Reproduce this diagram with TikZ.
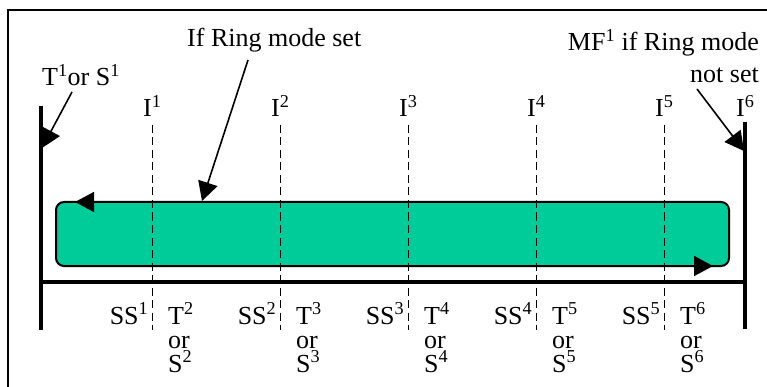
\documentclass[tikz,border=0pt]{standalone}
\usepackage{fontspec}
\setmainfont{Liberation Serif}
\usetikzlibrary{arrows.meta}
\definecolor{bandgreen}{RGB}{0,204,153}
\begin{document}
\begin{tikzpicture}[x=1pt,y=-1pt,
  lbl/.style={inner sep=0pt, font=\fontsize{26}{24}\selectfont},
  frameline/.style={line width=2.3pt},
  rail/.style={line width=4pt},
  divider/.style={line width=1.8pt, dash pattern=on 8pt off 4.5pt},
  pointer/.style={line width=1.6pt, -{Triangle[length=19pt,width=20pt]}},
  band/.style={fill=bandgreen, draw=black, line width=2pt, rounded corners=8pt},
]
\useasboundingbox (0,0) rectangle (767,387);

% outer frame
\draw[frameline] (8,390) -- (8,10) -- (770,10);

% ring band with its direction marks
\draw[band] (56,202) rectangle (729,266);
\coordinate (bandtopA) at (98,202);
\coordinate (bandtopB) at (75,202);
\coordinate (bandbotA) at (690,266);
\coordinate (bandbotB) at (713,266);
\draw[pointer] (bandtopA) -- (bandtopB);
\draw[pointer] (bandbotA) -- (bandbotB);

% end stations and the bus
\coordinate (leftTop) at (41,106);
\coordinate (leftBot) at (41,330);
\coordinate (rightTop) at (745,122);
\coordinate (rightBot) at (745,329);
\coordinate (busL) at (41,282);
\coordinate (busR) at (745,282);
\draw[rail] (leftTop) -- (leftBot);
\draw[rail] (rightTop) -- (rightBot);
\draw[rail] (busL) -- (busR);

% intermediate dividers and their labels
\foreach \i in {1,...,5} {
  \pgfmathsetmacro{\xx}{152.5+128*(\i-1)}
  \pgfmathtruncatemacro{\nn}{\i+1}
  \coordinate (divtop\i) at (\xx,125);
  \coordinate (divbot\i) at (\xx,330);
  \draw[divider] (divtop\i) -- (divbot\i);
  \node[lbl, anchor=base west] (intl\i) at (\xx-9.5,117) {I\textsuperscript{\i}};
  \node[lbl, anchor=base east] (ss\i) at (\xx-4,324) {SS\textsuperscript{\i}};
  \node[lbl, anchor=base west] (tl\nn) at (\xx+15.5,324) {T\textsuperscript{\nn}};
  \node[lbl, anchor=base west] (orl\nn) at (\xx+15.5,348) {or};
  \node[lbl, anchor=base west] (sl\nn) at (\xx+15.5,372) {S\textsuperscript{\nn}};
}
\node[lbl, anchor=base west] (intl6) at (736,117) {I\textsuperscript{6}};

% top captions
\node[lbl, anchor=base west] (ring) at (187,47) {If Ring mode set};
\node[lbl, anchor=base west] (tors) at (42,86) {T\textsuperscript{1}or S\textsuperscript{1}};
\node[lbl, anchor=base east] (mfa) at (759,51) {MF\textsuperscript{1} if Ring mode};
\node[lbl, anchor=base east] (mfb) at (759,83) {not set};

% caption pointers
\coordinate (ringtail) at (248,60);
\coordinate (ringtip) at (202,201);
\coordinate (torstail) at (72,92);
\coordinate (torstip) at (42,148);
\coordinate (mftail) at (697,89);
\coordinate (mftip) at (744,151);
\draw[pointer] (ringtail) -- (ringtip);
\draw[pointer] (torstail) -- (torstip);
\draw[pointer] (mftail) -- (mftip);
\end{tikzpicture}
\end{document}
